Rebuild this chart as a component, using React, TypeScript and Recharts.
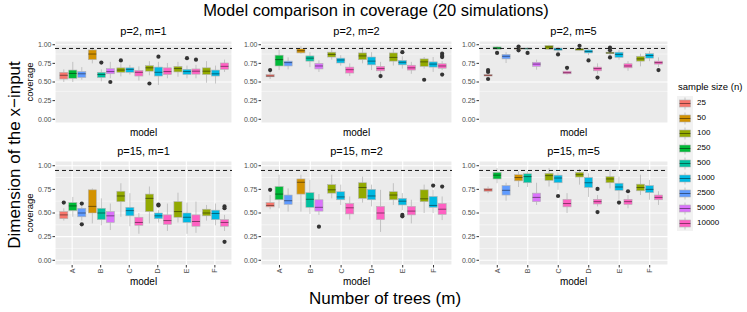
import { BarChart, Bar, XAxis, YAxis, CartesianGrid, ReferenceLine } from 'recharts';

const MODELS = ['A', 'B', 'C', 'D', 'E', 'F'];
const SIZES = ['25', '50', '100', '250', '500', '1000', '2500', '5000', '10000'];
const SIZE_COLORS = ['#F8766D', '#D39200', '#93AA00', '#00BA38', '#00C19F', '#00B9E3', '#619CFF', '#DB72FB', '#FF61C3'];
// sample sizes (index into SIZES) each model was run with
const MODEL_SIZES = [[0, 3, 6], [1, 4, 7], [2, 5, 8], [2, 5, 8], [2, 5, 8], [2, 5, 8]];
const Y_TICKS = [0, 0.25, 0.5, 0.75, 1];
const Y_MINOR = [0.125, 0.375, 0.625, 0.875];
const NOMINAL = 0.95;

// per box: [low whisker, q1, median, q3, high whisker, ...outliers], 3 boxes per model A..F
const p2m1 = [
  [0.50, 0.54, 0.59, 0.63, 0.67], [0.50, 0.55, 0.615, 0.66, 0.77], [0.53, 0.56, 0.61, 0.64, 0.70],
  [0.75, 0.80, 0.875, 0.93, 0.96], [0.51, 0.56, 0.60, 0.63, 0.67, 0.76], [0.55, 0.61, 0.64, 0.68, 0.77, 0.50],
  [0.575, 0.63, 0.66, 0.69, 0.75, 0.79], [0.60, 0.63, 0.67, 0.69, 0.73], [0.52, 0.58, 0.63, 0.655, 0.71],
  [0.59, 0.645, 0.69, 0.72, 0.78, 0.48], [0.46, 0.58, 0.63, 0.70, 0.77, 0.84], [0.55, 0.60, 0.64, 0.69, 0.755],
  [0.57, 0.635, 0.68, 0.71, 0.77], [0.55, 0.60, 0.64, 0.67, 0.72, 0.82], [0.55, 0.605, 0.645, 0.675, 0.73, 0.80],
  [0.49, 0.60, 0.645, 0.69, 0.78], [0.48, 0.58, 0.61, 0.66, 0.72], [0.635, 0.67, 0.71, 0.755, 0.80],
];
const p2m2 = [
  [0.54, 0.57, 0.58, 0.60, 0.635, 0.66], [0.66, 0.715, 0.80, 0.86, 0.93], [0.67, 0.715, 0.76, 0.78, 0.83],
  [0.88, 0.89, 0.92, 0.945, 0.98], [0.70, 0.78, 0.82, 0.85, 0.90], [0.635, 0.675, 0.715, 0.75, 0.79],
  [0.80, 0.835, 0.87, 0.90, 0.95], [0.72, 0.755, 0.795, 0.82, 0.86], [0.58, 0.62, 0.665, 0.70, 0.75],
  [0.75, 0.80, 0.85, 0.89, 0.97], [0.66, 0.73, 0.78, 0.835, 0.90], [0.60, 0.65, 0.68, 0.71, 0.77, 0.58],
  [0.72, 0.78, 0.83, 0.89, 0.95], [0.68, 0.73, 0.765, 0.79, 0.845, 0.90], [0.61, 0.66, 0.69, 0.725, 0.77],
  [0.68, 0.71, 0.77, 0.81, 0.835, 0.53], [0.635, 0.70, 0.74, 0.77, 0.835], [0.66, 0.685, 0.715, 0.745, 0.78, 0.88, 0.85, 0.835, 0.60],
];
const p2m5 = [
  [0.57, 0.58, 0.59, 0.60, 0.61, 0.66, 0.635, 0.54], [0.93, 0.94, 0.955, 0.97, 0.98, 0.89], [0.755, 0.81, 0.845, 0.87, 0.90],
  [0.935, 0.94, 0.95, 0.955, 0.96, 0.975, 0.925], [0.93, 0.94, 0.95, 0.955, 0.965, 0.89], [0.665, 0.71, 0.74, 0.765, 0.80],
  [0.93, 0.94, 0.97, 0.99, 1.0], [0.90, 0.925, 0.94, 0.955, 0.97, 0.87], [0.60, 0.61, 0.625, 0.645, 0.66, 0.69],
  [0.92, 0.925, 0.94, 0.95, 0.96, 0.985], [0.86, 0.89, 0.91, 0.93, 0.95, 0.79], [0.61, 0.65, 0.68, 0.70, 0.75, 0.56],
  [0.86, 0.88, 0.89, 0.90, 0.91, 0.96, 0.925, 0.83], [0.80, 0.83, 0.87, 0.90, 0.93], [0.65, 0.69, 0.715, 0.745, 0.78],
  [0.71, 0.78, 0.81, 0.845, 0.88], [0.78, 0.82, 0.855, 0.88, 0.915], [0.70, 0.74, 0.76, 0.78, 0.83, 0.66],
];
const p15m1 = [
  [0.42, 0.44, 0.48, 0.515, 0.55, 0.61], [0.46, 0.525, 0.575, 0.61, 0.67], [0.42, 0.46, 0.50, 0.55, 0.57, 0.60, 0.38],
  [0.39, 0.50, 0.57, 0.745, 0.76], [0.37, 0.43, 0.50, 0.55, 0.655], [0.32, 0.40, 0.47, 0.515, 0.60],
  [0.46, 0.62, 0.68, 0.73, 0.815], [0.36, 0.47, 0.525, 0.56, 0.71], [0.28, 0.37, 0.40, 0.455, 0.50],
  [0.39, 0.515, 0.655, 0.70, 0.78], [0.40, 0.44, 0.47, 0.50, 0.53, 0.59, 0.58], [0.31, 0.38, 0.42, 0.48, 0.60],
  [0.40, 0.455, 0.515, 0.62, 0.715], [0.28, 0.40, 0.455, 0.50, 0.61], [0.29, 0.36, 0.41, 0.48, 0.62],
  [0.42, 0.47, 0.50, 0.54, 0.585], [0.37, 0.43, 0.495, 0.53, 0.60], [0.31, 0.36, 0.40, 0.43, 0.48, 0.57, 0.55, 0.195],
];
const p15m2 = [
  [0.54, 0.565, 0.58, 0.61, 0.69, 0.745], [0.55, 0.64, 0.70, 0.78, 0.905], [0.515, 0.59, 0.63, 0.69, 0.76],
  [0.515, 0.70, 0.825, 0.86, 0.905], [0.49, 0.56, 0.645, 0.715, 0.85], [0.48, 0.52, 0.56, 0.64, 0.70, 0.355],
  [0.655, 0.71, 0.745, 0.80, 0.905], [0.585, 0.64, 0.67, 0.725, 0.80], [0.43, 0.49, 0.555, 0.60, 0.675],
  [0.61, 0.655, 0.77, 0.82, 0.885], [0.57, 0.64, 0.68, 0.75, 0.80], [0.30, 0.43, 0.50, 0.57, 0.745],
  [0.585, 0.64, 0.69, 0.725, 0.815], [0.53, 0.585, 0.625, 0.655, 0.71, 0.48, 0.465], [0.39, 0.48, 0.52, 0.57, 0.64],
  [0.50, 0.62, 0.65, 0.745, 0.80], [0.50, 0.56, 0.58, 0.675, 0.745, 0.79], [0.425, 0.485, 0.54, 0.60, 0.675, 0.78],
];
const p15m5 = [
  [0.71, 0.73, 0.745, 0.76, 0.78], [0.815, 0.86, 0.90, 0.93, 0.975], [0.63, 0.69, 0.74, 0.79, 0.82],
  [0.775, 0.84, 0.875, 0.905, 0.94], [0.775, 0.82, 0.885, 0.915, 0.94], [0.585, 0.62, 0.665, 0.71, 0.82],
  [0.78, 0.845, 0.895, 0.92, 0.975], [0.745, 0.82, 0.87, 0.90, 0.93, 0.68], [0.50, 0.565, 0.60, 0.645, 0.71],
  [0.80, 0.88, 0.905, 0.93, 0.965], [0.67, 0.77, 0.82, 0.875, 0.92], [0.57, 0.595, 0.62, 0.645, 0.69, 0.755, 0.51],
  [0.76, 0.82, 0.86, 0.885, 0.96], [0.64, 0.74, 0.775, 0.815, 0.885, 0.61], [0.55, 0.59, 0.62, 0.645, 0.69, 0.73],
  [0.69, 0.735, 0.77, 0.805, 0.905], [0.64, 0.715, 0.75, 0.79, 0.85], [0.585, 0.64, 0.665, 0.69, 0.73],
];

const PANELS = [
  { title: 'p=2, m=1', stats: p2m1 },
  { title: 'p=2, m=2', stats: p2m2 },
  { title: 'p=2, m=5', stats: p2m5 },
  { title: 'p=15, m=1', stats: p15m1 },
  { title: 'p=15, m=2', stats: p15m2 },
  { title: 'p=15, m=5', stats: p15m5 },
];

// plot-area placement of the 3 columns and 2 rows
const COLS = [{ left: 55, width: 177 }, { left: 261, width: 191 }, { left: 479, width: 189 }];
const ROWS = [{ top: 41, height: 82, labels: false }, { top: 161, height: 104, labels: true }];

const FONT = '"Liberation Sans", Arial, Helvetica, sans-serif';
const TICK_COLOR = '#4D4D4D';

function buildRows(stats: number[][]) {
  return MODELS.map((m, i) => {
    const row: any = { model: m, stats: [], sizes: MODEL_SIZES[i] };
    for (let s = 0; s < 3; s++) {
      const b = stats[i * 3 + s];
      row.stats.push(b);
      row['r' + s] = [Math.min(...b), Math.max(...b)];
    }
    return row;
  });
}

function BoxShape(props: any) {
  const { x, y, width, height, payload, slot } = props;
  const b: number[] = payload.stats[slot];
  const color = SIZE_COLORS[payload.sizes[slot]];
  const [lo, hi] = payload['r' + slot];
  const top = height >= 0 ? y : y + height;
  const ppu = Math.abs(height) / (hi - lo);
  const py = (v: number) => top + (hi - v) * ppu;
  const cx = x + width / 2;
  const bw = width * 0.9;
  const bx = cx - bw / 2;
  const [wl, q1, med, q3, wh, ...out] = b;
  return (
    <g>
      <line x1={cx} x2={cx} y1={py(wh)} y2={py(q3)} stroke="#A6A6A6" strokeWidth={0.6} />
      <line x1={cx} x2={cx} y1={py(q1)} y2={py(wl)} stroke="#A6A6A6" strokeWidth={0.6} />
      <rect x={bx} y={py(q3)} width={bw} height={Math.max(py(q1) - py(q3), 0.8)} fill={color} stroke="#B3B3B3" strokeWidth={0.6} />
      <line x1={bx} x2={bx + bw} y1={py(med)} y2={py(med)} stroke="rgba(0,0,0,0.45)" strokeWidth={1} />
      {out.map((o, k) => (
        <circle key={k} cx={cx} cy={py(o)} r={2.1} fill="#333333" />
      ))}
    </g>
  );
}

function RotTick({ x, y, payload }: any) {
  return (
    <text x={x} y={y} transform={`rotate(-90, ${x}, ${y})`} textAnchor="end" dominantBaseline="central" fontSize={7} fill={TICK_COLOR}>
      {payload.value}
    </text>
  );
}

function Panel({ stats, col, row }: { stats: number[][]; col: { left: number; width: number }; row: { top: number; height: number; labels: boolean } }) {
  const yw = 30;
  const xh = row.labels ? 14 : 4;
  const data = buildRows(stats);
  const pad = (col.width * 0.1) / 6.2;
  return (
    <div style={{ position: 'absolute', left: col.left - yw, top: row.top }}>
      <BarChart
        width={col.width + yw}
        height={row.height + xh}
        data={data}
        margin={{ top: 0, right: 0, bottom: 0, left: 0 }}
        barCategoryGap="5%"
        barGap={0}
      >
        <CartesianGrid fill="#EBEBEB" fillOpacity={1} stroke="#FFFFFF" strokeWidth={1.1} />
        <CartesianGrid vertical={false} horizontalValues={Y_MINOR} stroke="#FFFFFF" strokeWidth={0.5} />
        <XAxis
          dataKey="model"
          axisLine={false}
          tickLine={{ stroke: '#333333' }}
          tickSize={2.5}
          tickMargin={1}
          tick={row.labels ? <RotTick /> : false}
          padding={{ left: pad, right: pad }}
          height={xh}
          interval={0}
        />
        <YAxis
          type="number"
          domain={[-0.05, 1.05]}
          ticks={Y_TICKS}
          tickFormatter={(v: number) => v.toFixed(2)}
          axisLine={false}
          tickLine={{ stroke: '#333333' }}
          tickSize={2.5}
          tickMargin={1}
          tick={{ fontSize: 7, fill: TICK_COLOR }}
          width={yw}
        />
        <ReferenceLine y={NOMINAL} stroke="#1A1A1A" strokeWidth={1} strokeDasharray="4 3" />
        {[0, 1, 2].map((s) => (
          <Bar key={s} dataKey={'r' + s} isAnimationActive={false} shape={(p: any) => <BoxShape {...p} slot={s} />} />
        ))}
      </BarChart>
    </div>
  );
}

function Label({ x, y, size, text, rotate, color }: { x: number; y: number; size: number; text: string; rotate?: boolean; color?: string }) {
  return (
    <div
      style={{
        position: 'absolute',
        left: x,
        top: y,
        fontSize: size,
        lineHeight: 1,
        whiteSpace: 'nowrap',
        color: color || '#000',
        transform: `translate(-50%, -50%)${rotate ? ' rotate(-90deg)' : ''}`,
      }}
    >
      {text}
    </div>
  );
}

export default function App() {
  return (
    <div style={{ position: 'absolute', left: 0, top: 0, width: 747, height: 312, background: '#fff', fontFamily: FONT, overflow: 'hidden' }}>
      <Label x={376} y={10} size={16.5} text="Model comparison in coverage (20 simulations)" />
      <Label x={14} y={155} size={17} text="Dimension of the x−input" rotate />
      <Label x={385} y={298} size={17} text="Number of trees (m)" />
      {PANELS.map((p, i) => {
        const col = COLS[i % 3];
        const row = ROWS[Math.floor(i / 3)];
        const cx = col.left + col.width / 2;
        return (
          <div key={p.title}>
            <Panel stats={p.stats} col={col} row={row} />
            <Label x={cx} y={row.top - 10} size={11} text={p.title} />
            <Label x={cx} y={row.labels ? 282 : 133} size={10} text="model" />
            {i % 3 === 0 && <Label x={30} y={row.top + row.height / 2} size={9.5} text="coverage" rotate />}
          </div>
        );
      })}
      <div style={{ position: 'absolute', left: 678, top: 82, fontSize: 9.5, lineHeight: 1, whiteSpace: 'nowrap' }}>sample size (n)</div>
      <svg style={{ position: 'absolute', left: 677, top: 95.5 }} width={16} height={135}>
        {SIZES.map((s, k) => (
          <g key={s}>
            <rect x={0} y={k * 15} width={16} height={15} fill="#F2F2F2" />
            <line x1={8} x2={8} y1={k * 15 + 1.5} y2={k * 15 + 13.5} stroke="#A6A6A6" strokeWidth={0.6} />
            <rect x={2.5} y={k * 15 + 4} width={11} height={7} fill={SIZE_COLORS[k]} stroke="#B3B3B3" strokeWidth={0.6} />
            <line x1={2.5} x2={13.5} y1={k * 15 + 7.5} y2={k * 15 + 7.5} stroke="rgba(0,0,0,0.45)" strokeWidth={1} />
          </g>
        ))}
      </svg>
      {SIZES.map((s, k) => (
        <div key={s} style={{ position: 'absolute', left: 697, top: 103 + k * 15, transform: 'translateY(-50%)', fontSize: 8, lineHeight: 1, color: '#000' }}>
          {s}
        </div>
      ))}
    </div>
  );
}
